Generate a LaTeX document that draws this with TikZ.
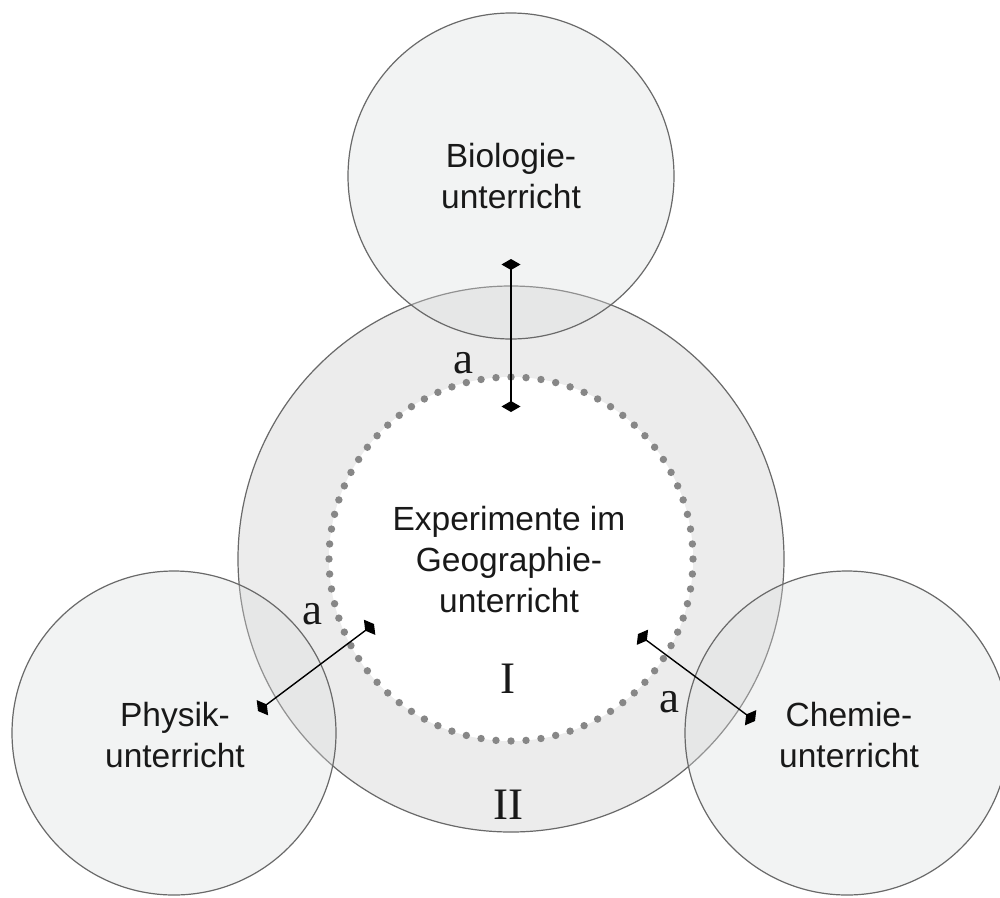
\documentclass[tikz,border=0pt]{standalone}
\usepackage{fontspec}
\setmainfont{Liberation Serif}
\newfontfamily\sansf{Liberation Sans}
\usetikzlibrary{arrows.meta,calc}
\definecolor{edgec}{RGB}{105,105,105}
\definecolor{bigfill}{RGB}{236,236,236}
\definecolor{smallfill}{RGB}{220,222,222}
\definecolor{dotc}{RGB}{135,135,135}
\definecolor{txtc}{RGB}{25,25,25}
\tikzset{
 bigcirc/.style={circle, inner sep=0pt, draw=edgec, line width=1.2pt, fill=bigfill},
 subj/.style={circle, inner sep=0pt, draw=edgec, line width=1.2pt, fill=smallfill, fill opacity=0.35},
 subjtext/.style={font=\sansf\fontsize{33.5}{41}\selectfont, align=center, text=txtc},
 lbl/.style={font=\fontsize{45}{45}\selectfont, anchor=base, text=txtc},
 link/.style={line width=1.4pt, {Diamond[length=11pt,width=19pt]}-{Diamond[length=11pt,width=19pt]}},
}
\begin{document}
\begin{tikzpicture}[x=1pt,y=-1pt]
\useasboundingbox (0,0) rectangle (1000,897);
\fill[white] (0,0) rectangle (1000,897);
\coordinate (C) at (511,559);
\node[bigcirc, minimum size=546pt] (geo) at (C) {};
\node[circle, inner sep=0pt, fill=white, minimum size=364pt] (inner) at (C) {};
\foreach \k in {0,...,75} \fill[dotc] ($(C)+({90+\k*4.736842}:182)$) circle (3.7pt);
\node[subj, minimum size=326pt] (bio) at (511,176) {};
\node[subj, minimum size=324pt] (phy) at (174,733) {};
\node[subj, minimum size=324pt] (che) at (847,733) {};
\node[subjtext] (biot) at (511,176) {Biologie-\\unterricht};
\node[subjtext] (phyt) at (175,735.5) {Physik-\\unterricht};
\node[subjtext] (chet) at (849,735.5) {Chemie-\\unterricht};
\node[subjtext] (geot) at (509,560) {Experimente im\\Geographie-\\unterricht};
\coordinate (b1) at (511,259); \coordinate (b2) at (511,412);
\coordinate (p1) at (258,711); \coordinate (p2) at (374,624);
\coordinate (c1) at (638,634); \coordinate (c2) at (755,721);
\draw[link] (b1) -- (b2);
\draw[link] (p1) -- (p2);
\draw[link] (c1) -- (c2);
\node[lbl] (ab) at (463,373) {a};
\node[lbl] (ap) at (312,624) {a};
\node[lbl] (ac) at (669,712) {a};
\node[lbl] (r1) at (508,693) {I};
\node[lbl] (r2) at (508,819) {II};
\end{tikzpicture}
\end{document}
